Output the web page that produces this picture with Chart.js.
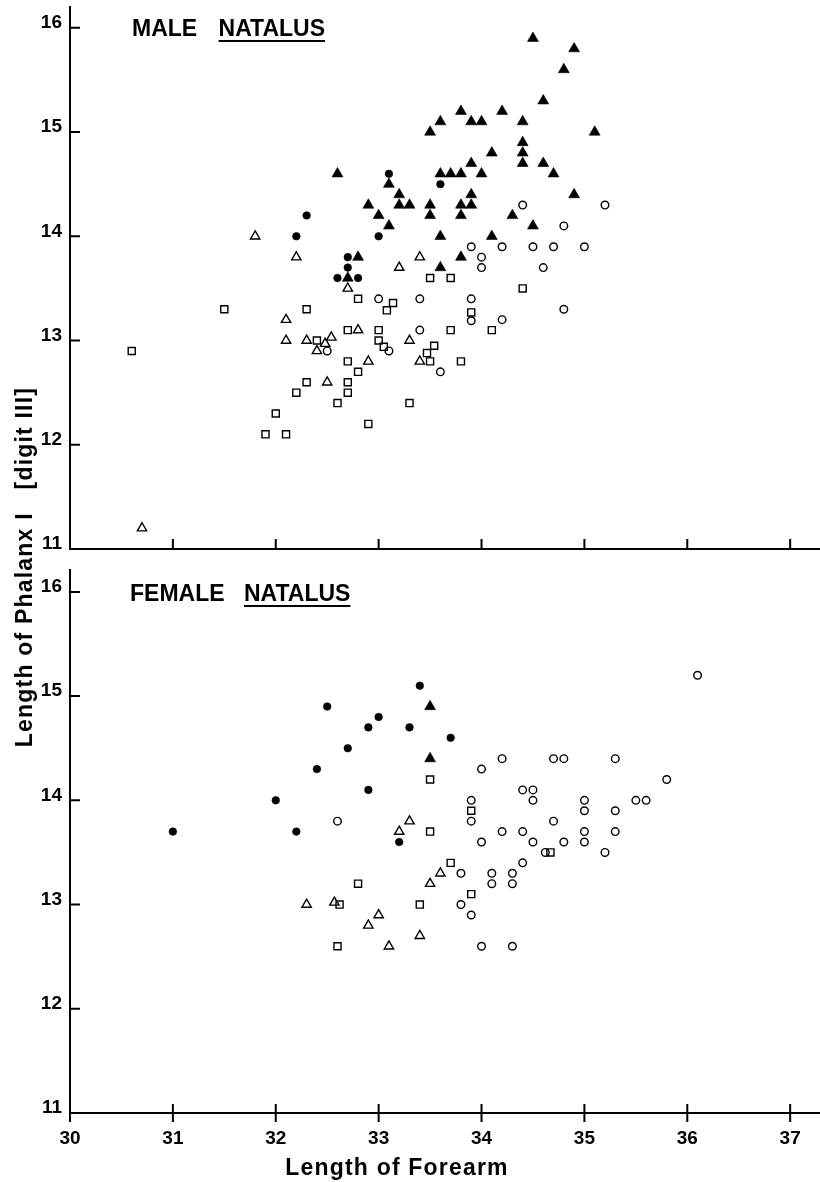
<!DOCTYPE html>
<html>
<head>
<meta charset="utf-8">
<script src="https://cdn.jsdelivr.net/npm/chart.js@4.4.1/dist/chart.umd.min.js"></script>
<style>
html,body{margin:0;padding:0;background:#fff;}
#wrap{position:relative;width:820px;height:1182px;overflow:hidden;font-family:"Liberation Sans",Arial,Helvetica,sans-serif;color:#000;}
canvas{position:absolute;left:0;}
#c1{top:0;}
#c2{top:560px;}
.pt{position:absolute;font-weight:bold;font-size:23px;line-height:23px;white-space:pre;}
.u{text-decoration:underline;text-decoration-thickness:2px;text-underline-offset:4px;}
#xt{position:absolute;left:197px;top:1155px;width:400px;text-align:center;font-weight:bold;font-size:23px;line-height:24px;letter-spacing:1.2px;white-space:pre;}
#yt{position:absolute;left:-186px;top:555px;width:420px;height:24px;text-align:center;font-weight:bold;font-size:23px;line-height:24px;letter-spacing:1.2px;white-space:pre;transform:rotate(-90deg);transform-origin:center center;}
</style>
</head>
<body>
<div id="wrap">
  <canvas id="c1" width="820" height="560"></canvas>
  <canvas id="c2" width="820" height="622"></canvas>
  <div class="pt" style="left:132px;top:17px;">MALE <span class="u" style="margin-left:15px;">NATALUS</span></div>
  <div class="pt" style="left:130px;top:582px;">FEMALE <span class="u" style="margin-left:13px;">NATALUS</span></div>
  <div id="xt">Length of Forearm</div>
  <div id="yt">Length of Phalanx I   [digit III]</div>
</div>
<script>
// ---------- tick values ----------
const xTickValues = [30, 31, 32, 33, 34, 35, 36, 37];
const yTickValues = [11, 12, 13, 14, 15, 16];

// ---------- MALE NATALUS (forearm, phalanx) ----------
const maleSolidTri = [
  [32.6,14.6],[33.1,14.5],[33.2,14.4],[32.9,14.3],[33.2,14.3],[33.3,14.3],[33.5,14.3],[33.0,14.2],
  [33.1,14.1],[33.5,14.2],[33.6,14.0],[32.8,13.8],[33.6,13.7],[32.7,13.6],
  [34.5,15.9],[34.9,15.8],[34.8,15.6],[34.6,15.3],[33.8,15.2],[34.2,15.2],[33.6,15.1],[33.9,15.1],
  [34.0,15.1],[34.4,15.1],[33.5,15.0],[35.1,15.0],[34.4,14.9],[34.1,14.8],[34.4,14.8],[33.9,14.7],
  [34.4,14.7],[34.6,14.7],[33.6,14.6],[33.7,14.6],[33.8,14.6],[34.0,14.6],[34.7,14.6],[33.9,14.4],
  [34.9,14.4],[33.8,14.3],[33.9,14.3],[33.8,14.2],[34.3,14.2],[34.5,14.1],[34.1,14.0],[33.8,13.8]
];
const maleSolidCirc = [
  [33.1,14.6],[33.6,14.5],[32.3,14.2],[32.2,14.0],[33.0,14.0],[32.7,13.8],[32.7,13.7],[32.6,13.6],[32.8,13.6]
];
const maleOpenTri = [
  [30.7,11.2],[31.8,14.0],[32.2,13.8],[33.4,13.8],[33.2,13.7],[32.7,13.5],[32.1,13.2],[32.8,13.1],
  [32.1,13.0],[32.3,13.0],[32.48,12.97],[32.54,13.03],[32.4,12.9],[33.3,13.0],[32.9,12.8],[33.4,12.8],[32.5,12.6]
];
const maleOpenSq = [
  [30.6,12.9],[31.5,13.3],[32.3,13.3],[32.8,13.4],[33.14,13.36],[33.08,13.29],[32.7,13.1],[33.0,13.1],
  [33.0,13.0],[32.4,13.0],[33.05,12.94],[32.7,12.8],[32.8,12.7],[32.7,12.6],[32.7,12.5],[32.3,12.6],
  [32.2,12.5],[32.6,12.4],[33.3,12.4],[32.0,12.3],[32.9,12.2],[31.9,12.1],[32.1,12.1],[33.5,13.6],
  [33.7,13.6],[34.4,13.5],[33.9,13.27],[33.7,13.1],[34.1,13.1],[33.54,12.95],[33.47,12.88],[33.5,12.8],[33.8,12.8]
];
const maleOpenCirc = [
  [32.5,12.9],[33.0,13.4],[33.4,13.4],[33.1,12.9],[33.4,13.1],[33.6,12.7],[33.9,13.4],[33.9,13.19],
  [34.2,13.2],[34.8,13.3],[34.0,13.7],[34.6,13.7],[34.0,13.8],[33.9,13.9],[34.2,13.9],[34.5,13.9],
  [34.7,13.9],[35.0,13.9],[34.8,14.1],[34.4,14.3],[35.2,14.3]
];

// ---------- FEMALE NATALUS ----------
const femaleSolidCirc = [
  [31.0,13.7],[32.0,14.0],[32.2,13.7],[32.4,14.3],[32.5,14.9],[32.7,14.5],[32.9,14.7],[32.9,14.1],
  [33.0,14.8],[33.3,14.7],[33.4,15.1],[33.7,14.6],[33.2,13.6]
];
const femaleSolidTri = [[33.5,14.9],[33.5,14.4]];
const femaleOpenTri = [
  [32.3,13.0],[32.57,13.02],[32.9,12.8],[33.0,12.9],[33.1,12.6],[33.2,13.7],[33.3,13.8],[33.4,12.7],[33.5,13.2],[33.6,13.3]
];
const femaleOpenSq = [
  [32.6,12.6],[32.62,13.0],[32.8,13.2],[33.4,13.0],[33.5,13.7],[33.5,14.2],[33.7,13.4],[33.9,13.1],[33.9,13.9],[34.67,13.5]
];
const femaleOpenCirc = [
  [32.6,13.8],[33.8,13.3],[33.8,13.0],[33.9,12.9],[33.9,13.8],[33.9,14.0],[34.0,14.3],[34.0,13.6],
  [34.0,12.6],[34.1,13.3],[34.1,13.2],[34.2,14.4],[34.2,13.7],[34.3,13.3],[34.3,13.2],[34.3,12.6],
  [34.4,14.1],[34.4,13.7],[34.4,13.4],[34.5,14.1],[34.5,14.0],[34.5,13.6],[34.62,13.5],[34.7,14.4],
  [34.7,13.8],[34.8,14.4],[34.8,13.6],[35.0,14.0],[35.0,13.9],[35.0,13.7],[35.0,13.6],[35.2,13.5],
  [35.3,14.4],[35.3,13.9],[35.3,13.7],[35.5,14.0],[35.6,14.0],[35.8,14.2],[36.1,15.2]
];

// ---------- helpers ----------
const pts = arr => arr.map(p => ({x: p[0], y: p[1]}));
const solid = (arr, style, r) => ({data: pts(arr), pointStyle: style, pointRadius: r, backgroundColor: '#000', borderColor: '#000', borderWidth: 0.6, clip: false});
const open = (arr, style, r) => ({data: pts(arr), pointStyle: style, pointRadius: r, backgroundColor: 'rgba(255,255,255,0)', borderColor: '#000', borderWidth: 1.4, clip: false});

const tickMarks = {
  id: 'tickMarks',
  afterDraw(chart, args, o) {
    const ctx = chart.ctx, xs = chart.scales.x, ys = chart.scales.y, ca = chart.chartArea;
    ctx.save();
    ctx.strokeStyle = '#000';
    ctx.lineWidth = 2;
    ctx.beginPath();
    o.xVals.forEach(v => { const p = xs.getPixelForValue(v); ctx.moveTo(p, ca.bottom - o.xIn); ctx.lineTo(p, ca.bottom + o.xOut); });
    o.yVals.forEach(v => { const p = ys.getPixelForValue(v); ctx.moveTo(ca.left - o.yOut, p); ctx.lineTo(ca.left + o.yIn, p); });
    ctx.stroke();
    ctx.restore();
  }
};

const tickFont = {family: '"Liberation Sans", Arial, Helvetica, sans-serif', size: 19, weight: 'bold'};

function makeChart(id, datasets, cfg) {
  return new Chart(document.getElementById(id), {
    type: 'scatter',
    data: {datasets},
    plugins: [tickMarks],
    options: {
      responsive: false,
      animation: false,
      events: [],
      layout: {autoPadding: false, padding: {top: cfg.padTop, left: 0, right: 0, bottom: 0}},
      plugins: {
        legend: {display: false},
        tooltip: {enabled: false},
        tickMarks: {xVals: xTickValues, yVals: yTickValues, xIn: cfg.xIn, xOut: cfg.xOut, yIn: 10, yOut: 0}
      },
      scales: {
        x: {
          type: 'linear', min: 30, max: 37.29,
          afterFit(s) { s.height = cfg.xHeight; s.paddingLeft = 0; s.paddingRight = 0; s.paddingTop = 0; s.paddingBottom = 0; },
          grid: {display: false, drawTicks: false},
          border: {display: true, color: '#000', width: 2},
          ticks: {display: cfg.xLabels, stepSize: 1, includeBounds: false, padding: cfg.xPad, color: '#000', font: tickFont, maxRotation: 0}
        },
        y: {
          type: 'linear', min: 11, max: cfg.yMax,
          afterFit(s) { s.width = 70; s.paddingTop = 0; s.paddingBottom = 0; s.paddingLeft = 0; s.paddingRight = 0; },
          grid: {display: false, drawTicks: false},
          border: {display: true, color: '#000', width: 2},
          ticks: {stepSize: 1, includeBounds: false, padding: 8, labelOffset: -5, color: '#000', font: tickFont}
        }
      }
    }
  });
}

makeChart('c1', [
  open(maleOpenSq, 'rect', 5),
  open(maleOpenCirc, 'circle', 3.8),
  open(maleOpenTri, 'triangle', 5.4),
  solid(maleSolidCirc, 'circle', 3.8),
  solid(maleSolidTri, 'triangle', 6.3)
], {padTop: 7, yMax: 16.2, xHeight: 11, xLabels: false, xPad: 0, xIn: 10, xOut: 0});

makeChart('c2', [
  open(femaleOpenSq, 'rect', 5),
  open(femaleOpenCirc, 'circle', 3.8),
  open(femaleOpenTri, 'triangle', 5.4),
  solid(femaleSolidCirc, 'circle', 3.8),
  solid(femaleSolidTri, 'triangle', 6.3)
], {padTop: 10, yMax: 16.21, xHeight: 69, xLabels: true, xPad: 14, xIn: 9, xOut: 9});
</script>
</body>
</html>
